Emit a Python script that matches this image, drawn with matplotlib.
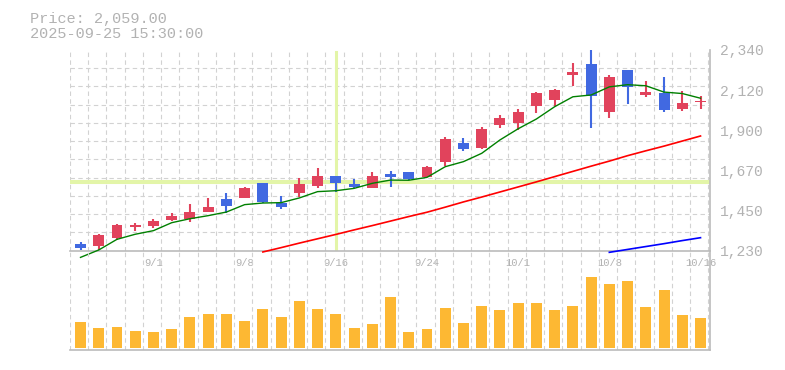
import matplotlib.pyplot as plt
import numpy as np

plt.rcParams['font.family'] = ['Liberation Mono', 'DejaVu Sans Mono']

# daily candles 8/26 - 10/16
dates = ['8/26', '8/27', '8/28', '8/29', '9/1', '9/2', '9/3', '9/4', '9/5',
         '9/8', '9/9', '9/10', '9/11', '9/12', '9/16', '9/17', '9/18', '9/19',
         '9/22', '9/24', '9/25', '9/26', '9/29', '9/30', '10/1', '10/2', '10/3',
         '10/6', '10/7', '10/8', '10/9', '10/10', '10/14', '10/15', '10/16']
opens = [1266, 1257, 1301, 1360, 1366, 1399, 1406, 1443, 1515, 1522, 1604, 1491,
         1547, 1587, 1642, 1598, 1578, 1654, 1665, 1639, 1722, 1825, 1797, 1926,
         1937, 2032, 2065, 2203, 2262, 1998, 2229, 2092, 2102, 2015, 2050]
highs = [1277, 1321, 1377, 1382, 1404, 1438, 1487, 1521, 1548, 1582, 1604, 1532,
         1630, 1687, 1645, 1624, 1665, 1670, 1665, 1698, 1858, 1853, 1914, 1980,
         2013, 2105, 2126, 2268, 2340, 2201, 2229, 2168, 2190, 2113, 2085]
lows = [1233, 1233, 1288, 1340, 1355, 1393, 1390, 1443, 1436, 1522, 1491, 1461,
        1528, 1578, 1556, 1574, 1578, 1583, 1620, 1639, 1700, 1783, 1792, 1910,
        1899, 1993, 2032, 2141, 1910, 1965, 2039, 2081, 1998, 2004, 2015]
closes = [1244, 1316, 1371, 1371, 1395, 1423, 1443, 1471, 1478, 1576, 1500, 1473,
          1598, 1642, 1605, 1580, 1642, 1639, 1628, 1692, 1847, 1792, 1903, 1964,
          1997, 2102, 2118, 2218, 2087, 2190, 2137, 2107, 2009, 2047, 2059]
volume = [260, 200, 210, 170, 160, 190, 310, 340, 340, 270, 390, 310, 470, 390,
          340, 200, 240, 510, 160, 190, 400, 250, 420, 380, 450, 450, 380, 420,
          710, 640, 670, 410, 580, 330, 300]

# moving averages (short / mid / long), mid and long start later
ma_short = [1192, 1233, 1292, 1320, 1340, 1384, 1406, 1423, 1443, 1484, 1493, 1495,
            1521, 1556, 1561, 1574, 1602, 1620, 1619, 1635, 1694, 1722, 1768, 1842,
            1904, 1958, 2026, 2081, 2091, 2136, 2148, 2142, 2107, 2099, 2073]
ma_mid_start = 10
ma_mid = [1222, 1246, 1271, 1295, 1319, 1344, 1368, 1393, 1418, 1442, 1470, 1499,
          1526, 1554, 1582, 1610, 1639, 1668, 1697, 1725, 1755, 1782, 1808, 1836, 1864]
ma_long_start = 29
ma_long = [1220, 1236, 1252, 1268, 1285, 1301]

label_dates = ['9/1', '9/8', '9/16', '9/24', '10/1', '10/8', '10/16']
price_min, price_max = 1229, 2340
price_labels = ['1,230', '1,450', '1,670', '1,900', '2,120', '2,340']
cross_date = '9/16'
cross_price = 1608

W, H = 785, 370
grid_col = '#d2d2d2'
txt_col = '#b2b2b2'
xl, xr = -0.576, 34.52

x = np.arange(len(dates))
o = np.array(opens)
c = np.array(closes)
cols = np.where(c >= o, '#e1435c', '#4169e1')

fig = plt.figure(figsize=(W / 100, H / 100), dpi=100)
ax = fig.add_axes([70 / W, 1 - 250.7 / H, 640 / W, 200.7 / H])
axv = fig.add_axes([70 / W, 1 - 350 / H, 640 / W, 99.3 / H])
axv.set_facecolor('none')

# candles
ax.vlines(x, lows, highs, colors=cols, lw=1.5, zorder=3)
ax.bar(x, np.maximum(np.abs(c - o), 3), bottom=np.minimum(o, c), width=0.6,
       color=cols, zorder=4)

# moving averages (not clipped, like the original)
ax.plot(x, ma_short, color='green', lw=1.0, zorder=5, clip_on=False)
ax.plot(x[ma_mid_start:], ma_mid, color='red', lw=1.2, zorder=5, clip_on=False)
ax.plot(x[ma_long_start:], ma_long, color='blue', lw=1.2, zorder=5, clip_on=False)

# crosshair
ax.axhline(cross_price, color='#e3f5a8', lw=2.9, zorder=2)
ax.axvline(dates.index(cross_date), ymin=0.01, ymax=0.99, color='#e3f5a8', lw=2.2, zorder=2)

ax.set_xlim(xl, xr)
ax.set_ylim(price_min, price_max)
ax.yaxis.tick_right()
ax.set_yticks(np.linspace(price_min, price_max, 6))
ax.set_yticklabels(price_labels)
ax.set_yticks(np.linspace(price_min, price_max, 12), minor=True)
ax.set_xticks([dates.index(d) for d in label_dates])
ax.set_xticklabels(label_dates)
ax.set_xticks(np.arange(xl, xr, 1), minor=True)
ax.tick_params(axis='y', length=0, pad=7, labelsize=10.5, labelcolor=txt_col)
ax.tick_params(axis='x', length=0, pad=5, labelsize=7.6, labelcolor=txt_col)
ax.tick_params(which='minor', length=0)
ax.grid(True, which='minor', color=grid_col, lw=0.8, linestyle=(0, (4, 3)), zorder=0)

# volume
axv.bar(x, volume, width=0.6, color='#fdb833', zorder=3)
vmax = max(volume)
axv.set_xlim(xl, xr)
axv.set_ylim(-2 / 71 * vmax, 97.3 / 71 * vmax)
axv.set_xticks(np.arange(xl, xr, 1), minor=True)
axv.set_xticks([])
axv.set_yticks([])
axv.tick_params(which='minor', length=0, labelbottom=False)
axv.grid(True, which='minor', axis='x', color=grid_col, lw=0.8, linestyle=(0, (4, 3)), zorder=0)

for a in (ax, axv):
    a.spines['top'].set_visible(False)
    a.spines['left'].set_visible(False)
    for s in ('bottom', 'right'):
        a.spines[s].set_color('#bbbbbb')
        a.spines[s].set_linewidth(1.2)

fig.text(30 / W, 1 - 23 / H, 'Price: 2,059.00', fontsize=11, color=txt_col, va='baseline')
fig.text(30 / W, 1 - 37.5 / H, '2025-09-25 15:30:00', fontsize=11, color=txt_col, va='baseline')

fig.savefig('out.png', dpi=100)
